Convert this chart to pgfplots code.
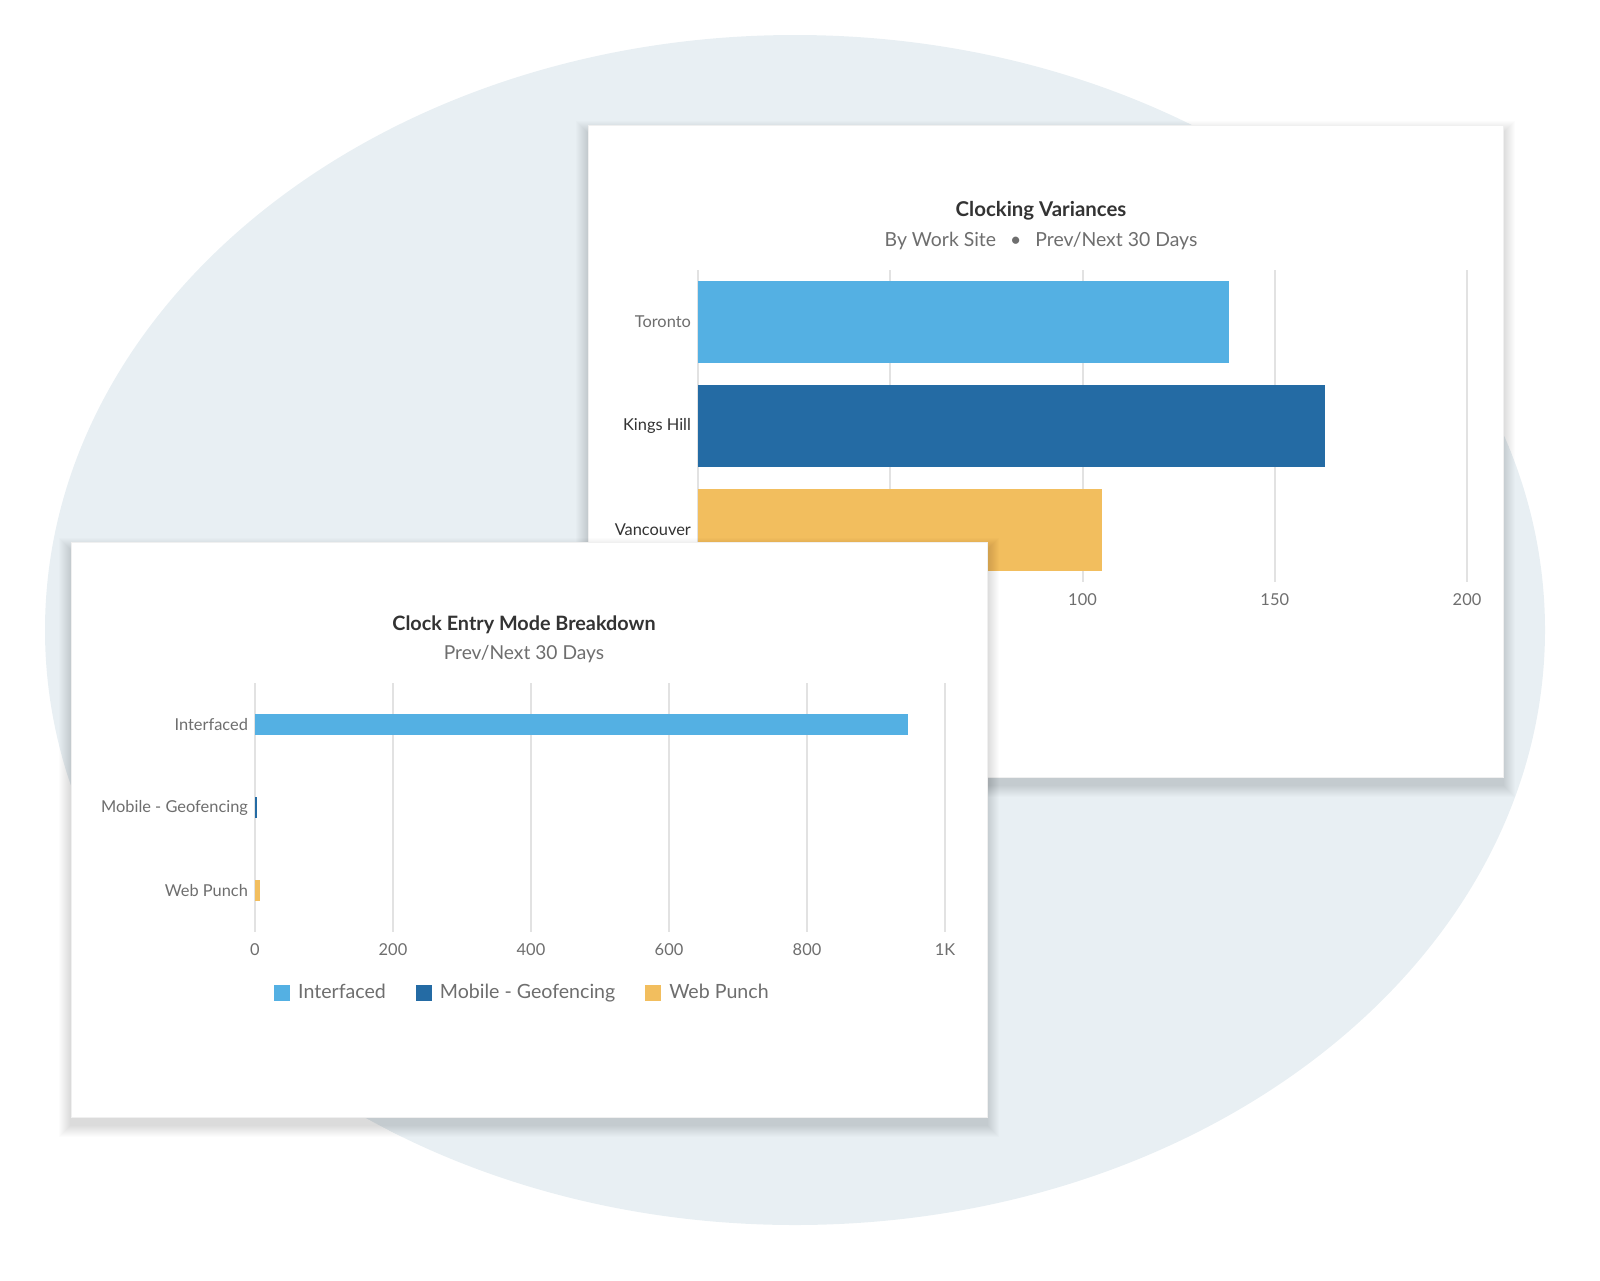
\documentclass[border=0pt]{standalone}
\usepackage{fontspec}
\setmainfont{Lato}
\usepackage{pgfplots}
\pgfplotsset{compat=1.18}

\definecolor{cLight}{HTML}{54B0E3}
\definecolor{cDark}{HTML}{246BA4}
\definecolor{cGold}{HTML}{F2BE5E}
\definecolor{blob}{HTML}{E8EFF3}
\definecolor{txt}{HTML}{333333}
\definecolor{sub}{HTML}{6E6E6E}
\definecolor{gridc}{HTML}{E2E2E2}

\pgfplotsset{
  cardchart/.style={
    xbar, scale only axis,
    axis line style={draw=none},
    major tick length=0pt,
    xmajorgrids, grid style={gridc, line width=1pt},
    y dir=reverse, ymin=-0.5, ymax=2.5, ytick={0,1,2},
    tick label style={font=\fontsize{8.2}{9}\selectfont, text=sub},
    xticklabel style={yshift=-2.5pt},
    /pgf/number format/assume math mode=true,
  },
  sq legend/.style={legend image code/.code={\fill[##1] (0pt,-4pt) rectangle (8pt,4pt);}},
}

\begin{document}
\begin{tikzpicture}
\path[use as bounding box] (0pt,0pt) rectangle (800pt,-640pt);

% background blob and top card (pixel coordinates, y down)
\begin{scope}[x=0.5pt, y=-0.5pt]
  \fill[blob] (795,630) ellipse [x radius=750, y radius=595];
  \foreach \i in {1,...,12}
    \fill[black, opacity=0.010] (588-\i,125-\i+8) rectangle (1503+\i,777+\i+8);
  \fill[white, draw=gray!12] (588,125) rectangle (1503,777);
  \node[font=\bfseries\fontsize{10.2}{11}\selectfont, text=txt] at (1041,211) {Clocking Variances};
  \node[font=\fontsize{9.7}{11}\selectfont, text=sub] at (1041,241)
    {By Work Site\hspace{7pt}\textbullet\hspace{7pt}Prev/Next 30 Days};
\end{scope}

\begin{axis}[cardchart,
  at={(349pt,-291pt)}, anchor=south west,
  width=384.5pt, height=156pt,
  xmin=0, xmax=200, xtick={0,50,100,150,200},
  bar width=41pt,
  yticklabels={\textcolor{sub}{Toronto},\textcolor{txt}{Kings Hill},\textcolor{txt}{Vancouver}},
]
\addplot[fill=cLight, draw=none, bar shift=0pt] coordinates {(138,0)};
\addplot[fill=cDark, draw=none, bar shift=0pt] coordinates {(163,1)};
\addplot[fill=cGold, draw=none, bar shift=0pt] coordinates {(105,2)};
\end{axis}

% bottom card
\begin{scope}[x=0.5pt, y=-0.5pt]
  \foreach \i in {1,...,12}
    \fill[black, opacity=0.010] (71-\i,542-\i+8) rectangle (987+\i,1117+\i+8);
  \fill[white, draw=gray!12] (71,542) rectangle (987,1117);
  \node[font=\bfseries\fontsize{9.9}{11}\selectfont, text=txt] at (524,625) {Clock Entry Mode Breakdown};
  \node[font=\fontsize{9.6}{11}\selectfont, text=sub] at (524,654) {Prev/Next 30 Days};
\end{scope}

\begin{axis}[cardchart,
  at={(127.5pt,-466pt)}, anchor=south west,
  width=345pt, height=124.5pt,
  xmin=0, xmax=1000, xtick={0,200,400,600,800,1000},
  xticklabels={0,200,400,600,800,1K},
  bar width=10.5pt,
  yticklabels={Interfaced,Mobile - Geofencing,Web Punch},
  legend columns=3,
  legend style={at={(0.389,-0.245)}, anchor=center, draw=none, fill=none,
    font=\fontsize{9.8}{11}\selectfont, text=sub,
    /tikz/every odd column/.append style={column sep=2pt},
    /tikz/every even column/.append style={column sep=13pt}},
]
\addplot[fill=cLight, draw=none, bar shift=0pt, sq legend] coordinates {(946,0)};
\addplot[fill=cDark, draw=none, bar shift=0pt, sq legend] coordinates {(3,1)};
\addplot[fill=cGold, draw=none, bar shift=0pt, sq legend] coordinates {(7,2)};
\legend{Interfaced, Mobile - Geofencing, Web Punch}
\end{axis}
\end{tikzpicture}
\end{document}
